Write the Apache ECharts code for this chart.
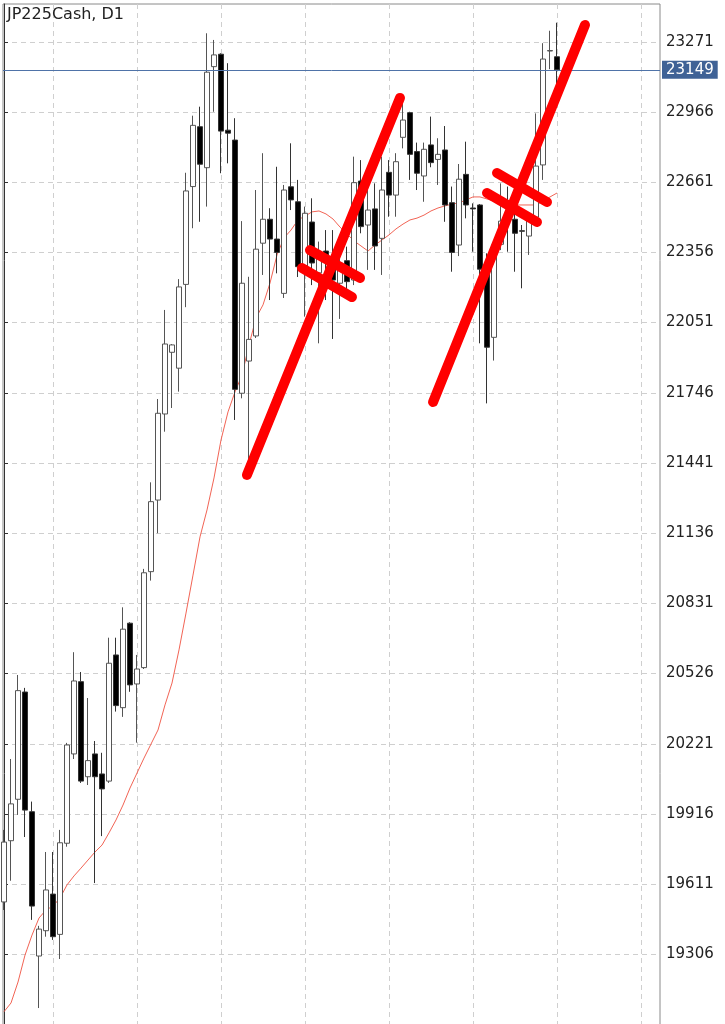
<!DOCTYPE html>
<html><head><meta charset="utf-8">
<script src="https://cdn.jsdelivr.net/npm/echarts@6/dist/echarts.min.js"></script>
<style>html,body{margin:0;padding:0;background:#fff;overflow:hidden;}#c{width:725px;height:1040px;}</style>
</head><body><div id="c"></div>
<script>
const chartTitle = 'JP225Cash, D1';
const yTicks = [19306, 19611, 19916, 20221, 20526, 20831, 21136, 21441, 21746, 22051, 22356, 22661, 22966, 23271];
const xGridTicks = [7, 19, 31, 43, 55, 67, 79, 91];
const lastPrice = 23149;
// daily candles, index 0..79
const opens = [19534,19800,19980,20446,19926,19299,19409,19568,19393,19789,20177,20491,20078,20177,20090,20059,20607,20378,20745,20481,
  20552,20969,21280,21654,21922,21853,22217,22642,22902,22724,23163,23217,22887,22844,21744,21884,21993,22396,22500,22414,
  22178,22641,22576,22280,22488,22267,22362,22316,22222,22320,22236,22666,22475,22545,22417,22704,22605,22856,22963,22794,
  22688,22823,22760,22801,22572,22388,22695,22549,22562,22298,21987,22391,22511,22500,22450,22427,22509,22736,23231,23206];
const closes = [19794,19960,20452,19933,19516,19416,19586,19383,19791,20216,20494,20059,20148,20078,20025,20571,20387,20719,20477,20546,
  20964,21273,21657,21958,21954,22206,22623,22908,22739,23139,23214,22883,22874,21761,22222,21978,22370,22500,22414,22356,
  22627,22584,22294,22526,22310,22352,22340,22236,22309,22229,22659,22468,22540,22384,22627,22605,22750,22931,22782,22700,
  22804,22746,22782,22562,22356,22674,22562,22545,22283,21944,22388,22492,22497,22439,22448,22504,22731,23196,23233,23149];
const lows = [19499,19626,19912,19816,19456,19073,19383,19369,19286,19774,20155,20051,20042,19616,19820,20051,20361,20338,20447,20226,
  20546,20930,21136,21577,21680,21751,22118,22461,22489,22555,22967,22700,22743,21628,21722,21440,21984,22258,22149,22265,
  22158,22540,22249,22077,22214,21961,22149,21980,22067,22193,22214,22439,22280,22280,22258,22511,22511,22808,22671,22627,
  22576,22726,22649,22489,22272,22340,22504,22359,21961,21700,21886,22366,22359,22272,22200,22345,22497,22671,23152,23062];
const highs = [19847,20155,20520,20464,19970,19430,19751,19751,19847,20225,20619,20533,20420,20233,20182,20682,20682,20814,20749,20607,
  20981,21357,21719,22106,21958,22240,22702,22950,22989,23308,23279,23221,23178,22939,22492,22250,22627,22787,22548,22728,
  22649,22830,22671,22555,22591,22403,22453,22453,22410,22381,22772,22757,22685,22656,22772,22757,22787,23040,22967,22833,
  22833,22946,22852,22905,22642,22740,22837,22569,22566,22352,22410,22656,22642,22587,22475,22527,22960,23265,23319,23354];
const movingAvg = [19057,19095,19186,19303,19390,19464,19499,19516,19551,19608,19647,19681,19716,19751,19781,19834,19890,19955,20029,20094,
  20159,20220,20281,20390,20485,20629,20789,20954,21120,21237,21376,21541,21663,21750,21823,21954,22071,22128,22223,22345,
  22419,22453,22497,22514,22532,22536,22523,22501,22466,22436,22406,22384,22362,22388,22410,22432,22458,22479,22497,22505,
  22518,22536,22549,22558,22566,22571,22584,22597,22597,22588,22579,22571,22566,22562,22562,22562,22562,22579,22597,22614];
// hand-drawn red annotation strokes: [[barIndex, price], [barIndex, price]]
const strokes = [
  [[34.71, 21389], [56.57, 23027]],
  [[43.71, 22366], [50.86, 22245]],
  [[42.57, 22288], [49.71, 22162]],
  [[61.29, 21706], [83.0, 23344]],
  [[70.43, 22701], [77.57, 22575]],
  [[69.0, 22614], [76.14, 22488]]
];
const yMin = 18977.6, yMax = 23435.2;
const xMin = -0.1429, xMax = 93.714;

const candleData = opens.map((o, i) => [i, o, closes[i], lows[i], highs[i]]);
const maData = movingAvg.map((v, i) => [i, v]);

const FONT = 'DejaVu Sans';
const chart = echarts.init(document.getElementById('c'), null, {renderer: 'canvas'});
const series = [
  {
    type: 'line', data: maData, showSymbol: false, symbol: 'none', silent: true,
    lineStyle: {color: '#f26455', width: 1}, z: 2, animation: false,
    markLine: {
      symbol: 'none', silent: true, animation: false,
      data: [{yAxis: lastPrice}],
      lineStyle: {color: '#4f73a8', width: 1, type: 'solid'},
      label: {
        show: true, position: 'end', distance: 2, formatter: String(lastPrice),
        color: '#fff', backgroundColor: '#3f6296', padding: [2, 4, 1, 4],
        fontSize: 15, fontFamily: FONT
      }
    }
  },
  {
    type: 'candlestick', data: candleData, encode: {x: 0, y: [1, 2, 3, 4]},
    barWidth: 5, z: 3, animation: false, silent: true,
    itemStyle: {color: '#ffffff', color0: '#000000', borderColor: '#555555', borderColor0: '#333333', borderWidth: 1}
  }
];
strokes.forEach(s => series.push({
  type: 'line', data: s, symbol: 'none', showSymbol: false, silent: true, animation: false, z: 5,
  lineStyle: {color: '#ff0000', width: 10, cap: 'round'}
}));

chart.setOption({
  animation: false,
  backgroundColor: '#ffffff',
  title: {text: chartTitle, left: 7, top: 7, padding: 0, textStyle: {fontSize: 16, fontWeight: 'normal', color: '#222', fontFamily: FONT}},
  grid: {left: 3, right: 65, top: 4, bottom: 10, show: true, borderColor: '#8a8a8a', borderWidth: 1, backgroundColor: 'transparent'},
  xAxis: {
    type: 'value', min: xMin, max: xMax,
    axisLine: {show: false},
    axisTick: {show: false, customValues: xGridTicks},
    axisLabel: {show: false, customValues: xGridTicks},
    splitLine: {show: true, lineStyle: {color: '#cfcfcf', type: [5, 4], width: 1}}
  },
  yAxis: {
    type: 'value', position: 'right', min: yMin, max: yMax, scale: true,
    axisLine: {show: true, lineStyle: {color: '#333', width: 1}},
    axisTick: {show: true, length: 4, inside: false, customValues: yTicks, lineStyle: {color: '#333'}},
    axisLabel: {show: true, customValues: yTicks, margin: 6, color: '#222', fontSize: 15, fontFamily: FONT,
      formatter: v => String(Math.round(v))},
    splitLine: {show: true, lineStyle: {color: '#cfcfcf', type: [5, 4], width: 1}}
  },
  series: series
});
</script></body></html>
